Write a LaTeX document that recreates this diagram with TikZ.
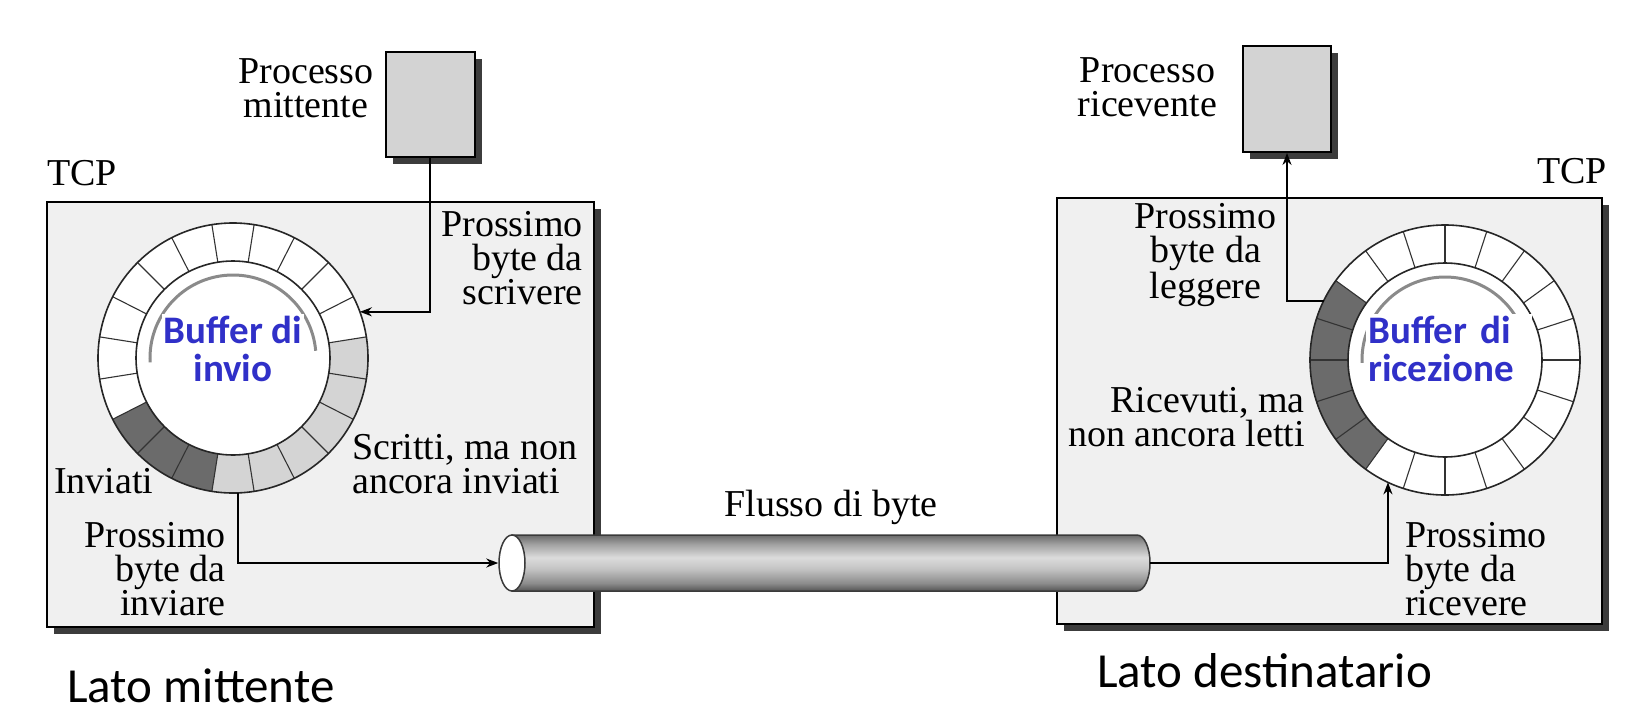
\documentclass[tikz,border=0pt]{standalone}
\usepackage{fontspec}
\setmainfont{Liberation Serif}
\newfontfamily\calibrifont{Carlito}
\usetikzlibrary{arrows.meta,shapes.geometric,shadows}
\definecolor{boxfill}{HTML}{F0F0F0}
\definecolor{shadowc}{HTML}{3C3C3C}
\definecolor{procfill}{HTML}{D3D3D3}
\definecolor{darkseg}{HTML}{6B6B6B}
\definecolor{lightseg}{HTML}{D4D4D4}
\definecolor{arcgray}{HTML}{8A8A8A}
\definecolor{bufblue}{RGB}{48,48,200}
\definecolor{pipeA}{HTML}{555555}
\definecolor{pipeB}{HTML}{8C8C8C}
\definecolor{pipeC}{HTML}{C4C4C4}
\definecolor{pipeD}{HTML}{DCDCDC}
\definecolor{pipeE}{HTML}{A0A0A0}
\definecolor{pipeF}{HTML}{6A6A6A}
\definecolor{pipeedge}{HTML}{3A3A3A}
\pgfdeclareverticalshading{pipesh}{100bp}{color(0bp)=(pipeA); color(25bp)=(pipeA); color(32bp)=(pipeB); color(45bp)=(pipeC); color(55bp)=(pipeD); color(67bp)=(pipeE); color(75bp)=(pipeF); color(100bp)=(pipeF)}
\tikzset{
  tcpbox/.style={draw=black, line width=2pt, fill=boxfill, inner sep=0pt,
    general shadow={fill=shadowc, shadow xshift=7pt, shadow yshift=-7pt}},
  procbox/.style={draw=black, line width=2pt, fill=procfill, inner sep=0pt,
    minimum width=89pt, minimum height=105pt,
    general shadow={fill=shadowc, shadow xshift=7pt, shadow yshift=-7pt}},
  lbl/.style={font=\fontsize{38}{34}\selectfont, inner sep=0pt},
  buflbl/.style={font=\calibrifont\bfseries\fontsize{39}{38}\selectfont, text=bufblue, fill=white, inner sep=2pt},
  latolbl/.style={font=\calibrifont\fontsize{49}{52}\selectfont, inner sep=0pt},
  segline/.style={draw=black!80, line width=1.1pt},
  ringline/.style={draw=black!85, line width=1.6pt},
  arcline/.style={draw=arcgray, line width=3pt},
  conn/.style={draw=black, line width=1.8pt},
  tip/.style={-{Stealth[length=12pt,width=9pt]}},
}
\begin{document}
\begin{tikzpicture}[x=1pt,y=-1pt]
\useasboundingbox (0,0) rectangle (1642,726);

% TCP boxes
\node[tcpbox, minimum width=547pt, minimum height=425pt] (tcpS) at (320.5,414.5) {};
\node[tcpbox, minimum width=545pt, minimum height=426pt] (tcpR) at (1329.5,411) {};
\node[lbl, anchor=base west] (tcpSlbl) at (47,185) {TCP};
\node[lbl, anchor=base east] (tcpRlbl) at (1607,183) {TCP};

% processes
\node[procbox] (procS) at (430,104.5) {};
\node[procbox, minimum width=88pt, minimum height=106pt] (procR) at (1287,99) {};
\node[lbl, anchor=base, align=center] (procSlbl) at (306,117) {Processo\\mittente};
\node[lbl, anchor=base, align=center] (procRlbl) at (1147.5,116) {Processo\\ricevente};

% sending ring
\begin{scope}[shift={(233,358)}, yscale=-1]
  \fill[white] (0,0) circle[radius=135];
  \foreach \c in {270,288,306,324,342,360}{
    \fill[lightseg] ({\c-9}:97) arc[start angle={\c-9}, end angle={\c+9}, radius=97]
      -- ({\c+9}:135) arc[start angle={\c+9}, end angle={\c-9}, radius=135] -- cycle;}
  \foreach \c in {216,234,252}{
    \fill[darkseg] ({\c-9}:97) arc[start angle={\c-9}, end angle={\c+9}, radius=97]
      -- ({\c+9}:135) arc[start angle={\c+9}, end angle={\c-9}, radius=135] -- cycle;}
  \foreach \k in {0,...,19}{\draw[segline] ({9+18*\k}:97) -- ({9+18*\k}:135);}
  \draw[ringline] (0,0) circle[radius=135];
  \draw[ringline] (0,0) circle[radius=97];
  \draw[arcline] (183:83) arc[start angle=183, end angle=5, radius=83];
  \coordinate (ringSin) at (20:135);
  \coordinate (ringSout) at (-88:135);
\end{scope}

% receiving ring
\begin{scope}[shift={(1445,360)}, yscale=-1]
  \fill[white] (0,0) circle[radius=135];
  \foreach \c in {153,171,189,207,225}{
    \fill[darkseg] ({\c-9}:97) arc[start angle={\c-9}, end angle={\c+9}, radius=97]
      -- ({\c+9}:135) arc[start angle={\c+9}, end angle={\c-9}, radius=135] -- cycle;}
  \foreach \k in {0,...,19}{\draw[segline] ({18*\k}:97) -- ({18*\k}:135);}
  \draw[ringline] (0,0) circle[radius=135];
  \draw[ringline] (0,0) circle[radius=97];
  \draw[arcline] (182:83) arc[start angle=182, end angle=15, radius=83];
  \coordinate (ringRin) at (245:135);
  \coordinate (ringRout) at (154:135);
\end{scope}

% buffer labels
\node[buflbl, align=center] (bufS) at (233,349) {Buffer di\\invio};
\node[buflbl, align=left, anchor=west, text width=162pt] (bufR) at (1366,349) {Buffer di\\ricezione};

% side labels
\node[lbl, anchor=base east, align=right] (nextwrite) at (583,304) {Prossimo\\byte da\\scrivere};
\node[lbl, anchor=base west, align=left] (written) at (352,493) {Scritti, ma non\\ancora inviati};
\node[lbl, anchor=base west] (sent) at (54,493) {Inviati};
\node[lbl, anchor=base east, align=right] (nextsend) at (226,615) {Prossimo\\byte da\\inviare};
\node[lbl, anchor=base, align=center] (nextread) at (1205.5,298) {Prossimo\\byte da\\leggere};
\node[lbl, anchor=base east, align=right] (received) at (1305,446) {Ricevuti, ma\\non ancora letti};
\node[lbl, anchor=base west, align=left] (nextrecv) at (1405,615) {Prossimo\\byte da\\ricevere};
\node[lbl, anchor=base] (flow) at (831,516) {Flusso di byte};

% pipe
\shadedraw[shading=pipesh, draw=pipeedge, line width=1.5pt]
  (512,535) -- (1137,535) arc[start angle=-90, end angle=90, x radius=13, y radius=28]
  -- (512,591) -- cycle;
\node[ellipse, draw=pipeedge, line width=1.5pt, fill=white, inner sep=0pt,
  minimum width=26pt, minimum height=56pt] (pipeL) at (512,563) {};
\coordinate (pipeR) at (1150,563);

% connectors
\draw[conn, tip] (procS.south) |- (ringSin);
\draw[conn, tip] (ringSout) |- (pipeL.west);
\draw[conn, tip] (pipeR) -| (ringRin);
\draw[conn, tip] (ringRout) -| (procR.south);

% side names
\node[latolbl, anchor=base west] (latoS) at (67,702) {Lato mittente};
\node[latolbl, anchor=base west] (latoR) at (1097,687) {Lato destinatario};
\end{tikzpicture}
\end{document}
